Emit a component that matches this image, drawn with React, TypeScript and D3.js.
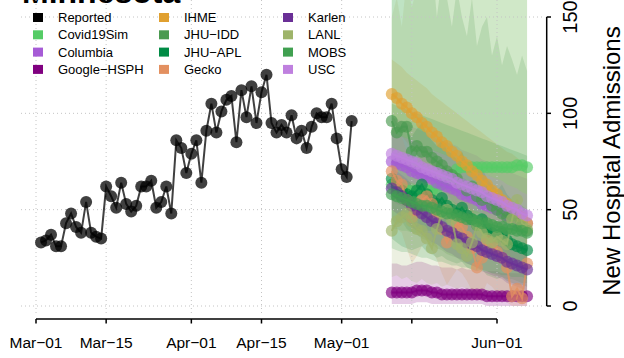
import React from "react";
import * as d3 from "d3";

const W = 624;
const H = 358;

// Reported daily admissions, starting 2020-03-02
const reportedStart = "2020-03-02";
const reported = [33, 34, 37, 31, 31, 43, 48, 41, 38, 54, 38, 36, 35, 62, 57, 51, 64, 53, 49, 52, 62, 62, 65, 51, 54, 62, 48, 86, 82, 69, 79, 86, 64, 91, 105, 90, 101, 107, 109, 85, 112, 98, 114, 95, 111, 120, 95, 90, 94, 90, 99, 87, 91, 82, 93, 100, 98, 98, 105, 87, 71, 67, 96];

// Forecasts, daily from 2020-05-11
const forecastStart = "2020-05-11";

const covidSimMed = [63, 62, 61, 60, 60, 59, 59, 60, 60, 61, 63, 65, 68, 71, 72, 72, 72, 72, 72, 72, 72, 72, 72, 72, 72, 73, 73, 72];
const covidSimLo = [40, 40, 39, 39, 38, 38, 38, 39, 39, 40, 41, 42, 44, 46, 47, 47, 48, 48, 48, 48, 48, 48, 48, 48, 48, 48, 48, 48];
const covidSimHi = [205, 200, 210, 198, 204, 212, 200, 206, 199, 208, 202, 210, 204, 198, 207, 201, 209, 203, 200, 206, 211, 199, 205, 202, 208, 200, 204, 207];

const columbiaMed = [75, 74, 73, 72, 70, 69, 68, 67, 66, 64, 63, 62, 61, 60, 58, 57, 56, 55, 53, 52, 51, 50, 49, 47, 46, 45, 44, 43];
const columbiaLo = [55, 53, 52, 50, 48, 47, 45, 44, 42, 41, 39, 38, 37, 35, 34, 33, 31, 30, 29, 28, 27, 26, 25, 24, 23, 22, 21, 20];
const columbiaHi = [98, 97, 96, 95, 93, 92, 91, 90, 89, 87, 86, 85, 84, 83, 81, 80, 79, 78, 76, 75, 74, 73, 72, 70, 69, 68, 67, 66];

const googleMed = [7, 7, 7, 7, 7, 8, 8, 8, 7, 7, 6, 6, 6, 6, 6, 6, 6, 6, 6, 5, 5, 5, 5, 5, 5, 5, 5, 5];
const googleLo = [1, 1, 1, 1, 1, 2, 2, 2, 1, 1, 1, 1, 1, 1, 1, 1, 1, 1, 1, 0, 0, 0, 0, 0, 0, 0, 0, 0];
const googleHi = [22, 22, 21, 21, 22, 23, 23, 22, 21, 21, 20, 20, 20, 19, 20, 19, 19, 19, 18, 18, 18, 18, 17, 17, 17, 17, 17, 17];

const ihmeMed = [110, 108, 105, 103, 100, 98, 95, 93, 90, 88, 85, 83, 80, 78, 75, 73, 70, 68, 65, 63, 60, 58, 55, 53, 50, 48, 46, 43];
const ihmeLo = [95, 92, 88, 85, 81, 78, 74, 71, 67, 64, 61, 58, 55, 52, 49, 46, 43, 41, 38, 36, 34, 31, 29, 27, 25, 23, 21, 19];
const ihmeHi = [128, 126, 124, 121, 119, 117, 115, 113, 110, 108, 106, 104, 102, 100, 98, 96, 94, 92, 90, 88, 86, 84, 82, 80, 79, 77, 75, 73];

const jhuIddMed = [96, 90, 93, 93, 80, 83, 80, 80, 77, 75, 73, 70, 68, 66, 63, 60, 62, 57, 55, 56, 52, 50, 48, 46, 47, 43, 41, 39];
const jhuIddLo = [45, 42, 44, 40, 38, 37, 35, 34, 32, 30, 29, 27, 26, 25, 23, 22, 21, 20, 19, 18, 17, 16, 15, 14, 14, 13, 12, 12];
const jhuIddHi = [185, 175, 190, 180, 170, 185, 160, 175, 180, 150, 170, 160, 145, 165, 150, 140, 160, 135, 145, 150, 130, 140, 125, 135, 128, 120, 130, 122];

const jhuAplMed = [66, 62, 60, 58, 57, 60, 63, 58, 55, 53, 56, 52, 50, 48, 51, 47, 45, 42, 45, 40, 38, 36, 38, 34, 32, 31, 30, 29];
const jhuAplLo = [35, 33, 31, 30, 29, 30, 31, 28, 27, 25, 26, 24, 23, 22, 23, 20, 19, 18, 19, 16, 15, 14, 15, 13, 12, 11, 11, 10];
const jhuAplHi = [100, 95, 93, 90, 88, 92, 95, 89, 86, 83, 86, 81, 79, 76, 80, 74, 71, 68, 72, 66, 63, 60, 63, 58, 55, 53, 52, 50];

const geckoMed = [70, 65, 63, 55, 46, 50, 55, 57, 53, 48, 40, 33, 38, 43, 41, 36, 30, 20, 25, 34, 32, 28, 25, 20, 5, 9, 4, 22];
const geckoLo = [45, 40, 38, 30, 22, 26, 31, 33, 29, 24, 17, 11, 15, 19, 17, 13, 8, 3, 6, 12, 10, 7, 4, 2, 0, 0, 0, 0];
const geckoHi = [95, 90, 88, 80, 72, 76, 80, 82, 78, 73, 66, 58, 63, 68, 66, 60, 54, 42, 48, 58, 56, 50, 46, 40, 20, 25, 20, 42];

const karlenMed = [61, 59, 57, 55, 52, 50, 48, 46, 44, 43, 41, 39, 38, 36, 35, 33, 32, 31, 29, 28, 27, 26, 25, 23, 22, 21, 20, 19];
const karlenLo = [50, 48, 46, 44, 41, 39, 37, 35, 33, 32, 30, 28, 27, 25, 24, 22, 21, 20, 18, 17, 16, 15, 14, 12, 11, 10, 9, 8];
const karlenHi = [72, 70, 68, 66, 63, 61, 59, 57, 55, 54, 52, 50, 49, 47, 46, 44, 43, 42, 40, 39, 38, 37, 36, 34, 33, 32, 31, 30];

const lanlMed = [39, 44, 46, 48, 44, 40, 39, 35, 30, 40, 48, 50, 45, 32, 30, 26, 33, 42, 38, 35, 33, 36, 34, 32, 45, 55, 43, 40];
const lanlLo = [15, 16, 14, 15, 13, 12, 14, 12, 11, 12, 10, 11, 10, 9, 10, 9, 8, 9, 8, 7, 8, 7, 6, 7, 6, 5, 6, 5];
const lanlHi = [150, 160, 145, 170, 155, 165, 175, 160, 170, 180, 165, 175, 185, 170, 180, 175, 190, 185, 180, 175, 190, 185, 180, 190, 185, 180, 175, 185];

const mobsMed = [58, 57, 56, 55, 54, 53, 52, 52, 51, 50, 49, 48, 48, 47, 46, 45, 45, 44, 43, 43, 42, 41, 41, 40, 40, 39, 39, 38];
const mobsLo = [30, 29, 28, 28, 27, 26, 25, 25, 24, 23, 23, 22, 21, 21, 20, 20, 19, 19, 18, 18, 17, 17, 16, 16, 15, 15, 15, 14];
const mobsHi = [105, 104, 103, 102, 101, 100, 99, 98, 97, 96, 95, 94, 93, 92, 91, 90, 89, 88, 87, 86, 85, 84, 83, 82, 81, 80, 79, 78];

const uscMed = [79, 78, 77, 76, 75, 74, 72, 71, 70, 69, 68, 67, 66, 64, 63, 62, 61, 60, 59, 57, 56, 55, 54, 52, 51, 50, 48, 47];
const uscLo = [68, 67, 66, 65, 64, 63, 61, 60, 59, 58, 57, 56, 55, 53, 52, 51, 50, 49, 48, 46, 45, 44, 43, 41, 40, 39, 37, 36];
const uscHi = [90, 89, 88, 87, 86, 85, 83, 82, 81, 80, 79, 78, 77, 75, 74, 73, 72, 71, 70, 68, 67, 66, 65, 63, 62, 61, 59, 58];

const modelNames = ["Covid19Sim", "Columbia", "Google\u2212HSPH", "IHME", "JHU\u2212IDD", "JHU\u2212APL", "Gecko", "Karlen", "LANL", "MOBS", "USC"];
const modelColors = ["#55cc66", "#a65bd6", "#800080", "#e0a030", "#4a9a50", "#008b45", "#e39060", "#6a2f96", "#9eb46a", "#40a050", "#bf80df"];
const modelMed = [covidSimMed, columbiaMed, googleMed, ihmeMed, jhuIddMed, jhuAplMed, geckoMed, karlenMed, lanlMed, mobsMed, uscMed];
const modelLo = [covidSimLo, columbiaLo, googleLo, ihmeLo, jhuIddLo, jhuAplLo, geckoLo, karlenLo, lanlLo, mobsLo, uscLo];
const modelHi = [covidSimHi, columbiaHi, googleHi, ihmeHi, jhuIddHi, jhuAplHi, geckoHi, karlenHi, lanlHi, mobsHi, uscHi];

const legendNames = ["Reported", ...modelNames];
const legendColors = ["#000000", ...modelColors];

const tickDates = ["2020-03-01", "2020-03-15", "2020-04-01", "2020-04-15", "2020-05-01", "2020-05-15", "2020-06-01"];
const tickLabels = ["Mar\u221201", "Mar\u221215", "Apr\u221201", "Apr\u221215", "May\u221201", "", "Jun\u221201"];
const yTicks = [0, 50, 100, 150];

const FONT = "'Liberation Sans', Arial, Helvetica, sans-serif";

const parse = (s: string) => new Date(s + "T00:00:00Z");

export default function App() {
  const x = d3.scaleUtc().domain([parse("2020-03-01"), parse("2020-06-01")]).range([36, 497]);
  const y = d3.scaleLinear().domain([0, 150]).range([306, 17]);

  const repDates = reported.map((_, i) => d3.utcDay.offset(parse(reportedStart), i));
  const fcDates = modelMed[0].map((_, i) => d3.utcDay.offset(parse(forecastStart), i));

  const line = d3.line<[Date, number]>().x((d) => x(d[0])).y((d) => y(d[1]));
  const area = d3
    .area<[Date, number, number]>()
    .x((d) => x(d[0]))
    .y0((d) => y(d[1]))
    .y1((d) => y(d[2]));

  const repPts: [Date, number][] = reported.map((v, i) => [repDates[i], v]);

  const xLeft = 21;
  const xRight = 543;

  return (
    <svg
      width={W}
      height={H}
      style={{ position: "absolute", left: 0, top: 0, background: "#fff" }}
      fontFamily={FONT}
    >
      <rect x={0} y={0} width={W} height={H} fill="#fff" />
      {/* title (cropped) */}
      <text x={22} y={3} fontSize={32} fontWeight="bold" fill="#000">
        Minnesota
      </text>

      {/* bands */}
      <g>
        {modelNames.map((n, m) => (
          <path
            key={"band" + n}
            d={area(fcDates.map((d, i) => [d, modelLo[m][i], modelHi[m][i]])) || ""}
            fill={modelColors[m]}
            fillOpacity={0.2}
            stroke="none"
          />
        ))}
      </g>

      {/* grid */}
      <g stroke="#c4c4c4" strokeWidth={1} strokeDasharray="1,3">
        {yTicks.map((t) => (
          <line key={"gy" + t} x1={xLeft} x2={xRight} y1={y(t)} y2={y(t)} />
        ))}
        {tickDates.map((t) => (
          <line key={"gx" + t} x1={x(parse(t))} x2={x(parse(t))} y1={0} y2={315} />
        ))}
      </g>

      {/* legend */}
      <g fontSize={13} fill="#000">
        {legendNames.map((n, i) => {
          const col = Math.floor(i / 4);
          const row = i % 4;
          const sx = [33, 159, 283][col];
          const cy = 17.5 + row * 17.3;
          return (
            <g key={"lg" + n}>
              <rect x={sx} y={cy - 4.5} width={10} height={9} fill={legendColors[i]} />
              <text x={sx + 25} y={cy + 4.6}>
                {n}
              </text>
            </g>
          );
        })}
      </g>

      {/* reported */}
      <g>
        {repPts.map((p, i) => (
          <circle key={"rp" + i} cx={x(p[0])} cy={y(p[1])} r={6} fill="#000" fillOpacity={0.75} />
        ))}
        <path d={line(repPts) || ""} fill="none" stroke="#000" strokeOpacity={0.75} strokeWidth={2} />
      </g>

      {/* model medians */}
      {modelNames.map((n, m) => {
        const pts: [Date, number][] = fcDates.map((d, i) => [d, modelMed[m][i]]);
        return (
          <g key={"med" + n}>
            {pts.map((p, i) => (
              <circle key={i} cx={x(p[0])} cy={y(p[1])} r={6} fill={modelColors[m]} fillOpacity={0.65} />
            ))}
            <path d={line(pts) || ""} fill="none" stroke={modelColors[m]} strokeOpacity={0.75} strokeWidth={2} />
          </g>
        );
      })}

      {/* x axis */}
      <g>
        <line x1={x(parse(tickDates[0]))} x2={x(parse(tickDates[tickDates.length - 1]))} y1={319} y2={319} stroke="#000" strokeWidth={1.5} />
        {tickDates.map((t, i) => (
          <g key={"xt" + t}>
            <line x1={x(parse(t))} x2={x(parse(t))} y1={319} y2={323.5} stroke="#000" strokeWidth={1.5} />
            <text x={x(parse(t))} y={348} fontSize={15.5} textAnchor="middle" fill="#000">
              {tickLabels[i]}
            </text>
          </g>
        ))}
      </g>

      {/* y axis (right) */}
      <g>
        <line x1={546.7} x2={546.7} y1={y(0)} y2={y(150)} stroke="#000" strokeWidth={1.5} />
        {yTicks.map((t) => (
          <g key={"yt" + t}>
            <line x1={546.7} x2={551} y1={y(t)} y2={y(t)} stroke="#000" strokeWidth={1.5} />
            <text
              transform={`translate(577,${y(t)}) rotate(-90)`}
              fontSize={20}
              textAnchor="middle"
              fill="#000"
            >
              {t}
            </text>
          </g>
        ))}
        <text transform={`translate(620,161) rotate(-90)`} fontSize={24} textAnchor="middle" fill="#000">
          New Hospital Admissions
        </text>
      </g>
    </svg>
  );
}
